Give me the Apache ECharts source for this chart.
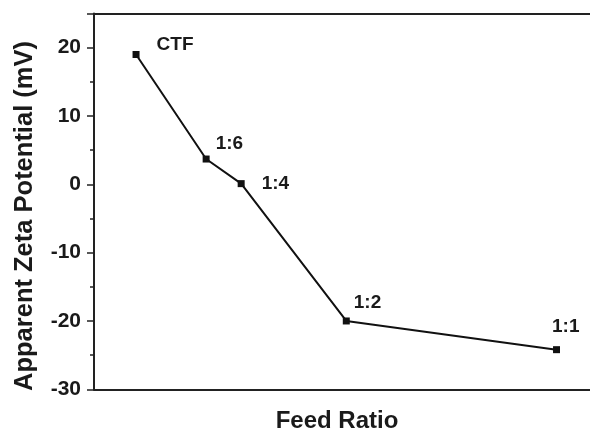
<!DOCTYPE html>
<html>
<head>
<meta charset="utf-8">
<script src="https://cdn.jsdelivr.net/npm/echarts@6/dist/echarts.min.js"></script>
<style>
html,body{margin:0;padding:0;background:#fff;}
#chart{width:590px;height:432px;}
</style>
</head>
<body>
<div id="chart"></div>
<script>
// Data
const categories = ['CTF', '1:6', '1:4', '1:2', '1:1'];
const feedRatio = [0, 0.1667, 0.25, 0.5, 1];
const zetaPotential = [19, 3.7, 0.1, -20, -24.2];
const yTicks = [-30, -20, -10, 0, 10, 20];

// Label placement (styling only)
const labelOffsets = [[17, -10], [6, -15], [17, 0], [4, -18], [-8, -23]];

const FONT = 'Liberation Sans, Arial, sans-serif';
const chart = echarts.init(document.getElementById('chart'));

const seriesData = categories.map((c, i) => ({
  value: [feedRatio[i], zetaPotential[i]],
  name: c,
  label: {
    show: true,
    formatter: c,
    position: 'right',
    distance: 0,
    offset: labelOffsets[i],
    fontFamily: FONT,
    fontWeight: 'bold',
    fontSize: 19,
    color: '#1a1a1a'
  }
}));

chart.setOption({
  animation: false,
  backgroundColor: '#ffffff',
  grid: { left: 94, right: 0, top: 13.5, bottom: 42.7, show: false, containLabel: false, outerBoundsMode: 'none' },
  xAxis: [{
    type: 'value',
    min: -0.1, max: 1.0796,
    position: 'bottom',
    name: 'Feed Ratio',
    nameLocation: 'middle',
    nameGap: 20,
    nameTextStyle: { fontFamily: FONT, fontWeight: 'bold', fontSize: 24, color: '#1a1a1a', padding: [0, 10, 0, 0] },
    axisLine: { show: true, onZero: false, lineStyle: { color: '#222', width: 2 } },
    axisTick: { show: false },
    axisLabel: { show: false },
    splitLine: { show: false }
  }, {
    type: 'value',
    min: -0.1, max: 1.0796,
    position: 'top',
    axisLine: { show: true, onZero: false, lineStyle: { color: '#222', width: 2 } },
    axisTick: { show: false },
    axisLabel: { show: false },
    splitLine: { show: false }
  }],
  yAxis: {
    type: 'value',
    min: -30, max: 25, interval: 10,
    axisLine: { show: true, onZero: false, lineStyle: { color: '#222', width: 2 } },
    axisTick: { show: true, inside: false, length: 7, lineStyle: { color: '#222', width: 1.5 } },
    minorTick: { show: true, splitNumber: 2, length: 4, lineStyle: { color: '#222', width: 1.5 } },
    axisLabel: {
      margin: 13,
      fontFamily: FONT, fontWeight: 'bold', fontSize: 21, color: '#1a1a1a',
      formatter: v => (yTicks.indexOf(v) >= 0 ? String(v) : '')
    },
    splitLine: { show: false }
  },
  graphic: [{
    type: 'text',
    x: 25, y: 216,
    rotation: Math.PI / 2,
    style: {
      text: 'Apparent Zeta Potential (mV)',
      font: 'bold 25.5px ' + FONT,
      fill: '#1a1a1a',
      textAlign: 'center',
      textVerticalAlign: 'middle'
    }
  }],
  series: [{
    type: 'line',
    xAxisIndex: 0,
    data: seriesData,
    symbol: 'rect',
    symbolSize: 7,
    lineStyle: { color: '#111', width: 2 },
    itemStyle: { color: '#111' }
  }]
});
</script>
</body>
</html>
